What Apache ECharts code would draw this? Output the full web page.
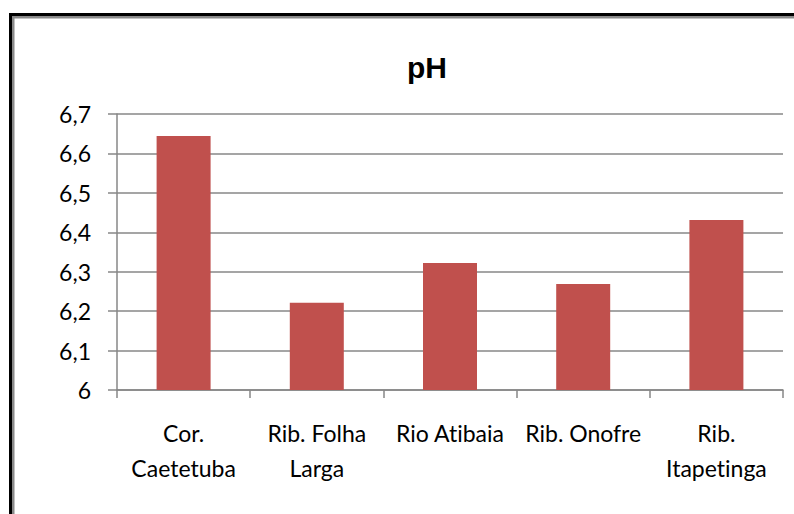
<!DOCTYPE html>
<html>
<head>
<meta charset="utf-8">
<script src="https://cdn.jsdelivr.net/npm/echarts@6/dist/echarts.min.js"></script>
<style>html,body{margin:0;padding:0;background:#fff}#c{width:794px;height:514px}
#c text{font-variant-ligatures:none;font-feature-settings:"liga" 0,"clig" 0}</style>
</head>
<body>
<div id="c"></div>
<script>
const titleText = 'pH';
const categories = ['Cor.\nCaetetuba', 'Rib. Folha\nLarga', 'Rio Atibaia', 'Rib. Onofre', 'Rib.\nItapetinga'];
const phValues = [6.644, 6.221, 6.322, 6.269, 6.431];
const yMin = 6, yMax = 6.7, yStep = 0.1;

const chart = echarts.init(document.getElementById('c'), null, {renderer: 'svg'});
const gridColor = '#878787';
chart.setOption({
  animation: false,
  backgroundColor: '#fff',
  title: {
    text: titleText, left: 402, top: 47,
    textStyle: {fontFamily: 'Liberation Sans', fontWeight: 'bold', fontSize: 30, color: '#000'}
  },
  graphic: [
    {type: 'rect', shape: {x: 9, y: 13, width: 3, height: 600}, style: {fill: '#000'}},
    {type: 'rect', shape: {x: 9, y: 13, width: 900, height: 3}, style: {fill: '#000'}},
    {type: 'rect', shape: {x: 12, y: 16, width: 2.5, height: 600}, style: {fill: '#8a8a8a'}},
    {type: 'rect', shape: {x: 12, y: 16, width: 900, height: 2.5}, style: {fill: '#8a8a8a'}}
  ],
  grid: {left: 117, right: 11, top: 114, bottom: 124},
  xAxis: {
    type: 'category', data: categories,
    axisLine: {lineStyle: {color: gridColor, width: 1.5}},
    axisTick: {show: true, length: 8, lineStyle: {color: gridColor, width: 1.5}},
    axisLabel: {interval: 0, margin: 25, color: '#000', fontFamily: 'Lato', fontSize: 23, lineHeight: 35}
  },
  yAxis: {
    type: 'value', min: yMin, max: yMax, interval: yStep,
    axisLine: {show: true, lineStyle: {color: gridColor, width: 1.5}},
    axisTick: {show: true, length: 9, lineStyle: {color: gridColor, width: 1.5}},
    splitLine: {lineStyle: {color: gridColor, width: 1.5}},
    axisLabel: {
      margin: 26, color: '#000', fontFamily: 'Lato', fontSize: 23,
      formatter: v => (Math.abs(v - Math.round(v)) < 1e-9 ? String(Math.round(v)) : v.toFixed(1).replace('.', ','))
    }
  },
  series: [{
    type: 'bar', data: phValues, barWidth: 54,
    itemStyle: {color: '#c0504d'}
  }]
});
</script>
</body>
</html>
